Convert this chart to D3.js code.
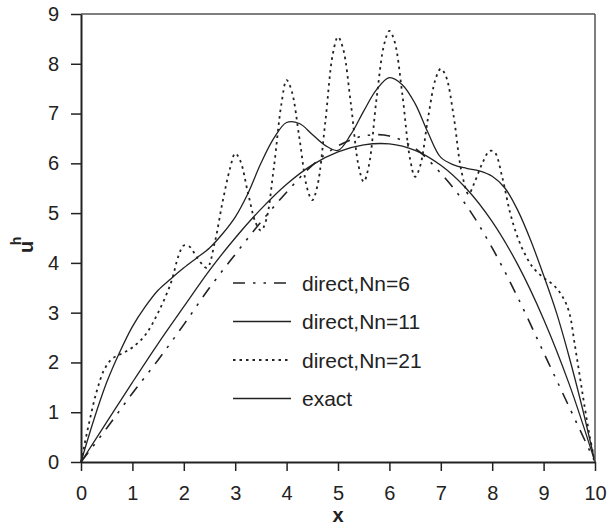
<!DOCTYPE html>
<html>
<head>
<meta charset="utf-8">
<script src="https://cdn.jsdelivr.net/npm/d3@7"></script>
<style>
body { margin: 0; background: #fff; }
</style>
</head>
<body>
<svg id="chart" width="607" height="530"></svg>
<script>
// x grid for exact and Nn=6 curves
const xHalf = [0,0.5,1,1.5,2,2.5,3,3.5,4,4.5,5,5.5,6,6.5,7,7.5,8,8.5,9,9.5,10];
const exactU = [0,0.8,1.6,2.38,3.12,3.85,4.5,5.08,5.58,5.97,6.23,6.37,6.39,6.26,5.96,5.49,4.83,3.96,2.87,1.56,0];
const nn6U = [0,0.68,1.38,2.05,2.76,3.5,4.17,4.82,5.42,5.96,6.35,6.55,6.55,6.3,5.8,5.15,4.3,3.3,2.2,1.1,0];

// x grid for Nn=11
const xQuarter = [0,0.25,0.5,0.75,1,1.25,1.5,1.75,2,2.25,2.5,2.75,3,3.25,3.5,3.75,4,4.25,4.5,4.75,5,
    5.25,5.5,5.75,6,6.25,6.5,6.75,7,7.25,7.5,7.75,8,8.25,8.5,8.75,9,9.25,9.5,9.75,10];
const nn11U = [0,0.85,1.6,2.2,2.72,3.12,3.45,3.68,3.9,4.1,4.3,4.58,4.92,5.4,6.0,6.5,6.82,6.8,6.58,6.36,6.26,
    6.58,7.05,7.48,7.72,7.58,7.2,6.62,6.12,5.97,5.9,5.85,5.74,5.5,5.05,4.45,3.75,3.0,2.1,1.1,0];

// Nn=21 (oscillating)
const xNn21 = [0,0.15,0.3,0.45,0.6,0.8,1.0,1.25,1.5,1.75,1.9,2.0,2.12,2.25,2.45,2.6,2.75,2.9,3.0,3.1,3.25,3.4,3.5,
    3.6,3.75,3.9,4.0,4.1,4.25,4.4,4.5,4.6,4.75,4.9,5.0,5.1,5.25,5.4,5.5,5.6,5.75,5.9,6.0,6.1,6.25,6.4,6.5,
    6.6,6.75,6.9,7.0,7.1,7.25,7.4,7.54,7.65,7.8,7.95,8.05,8.2,8.35,8.5,8.65,8.8,9.0,9.2,9.38,9.5,9.6,9.7,9.8,9.9,10];
const nn21U = [0,0.75,1.4,1.85,2.07,2.18,2.3,2.55,3.0,3.6,4.15,4.35,4.32,4.12,3.9,4.4,5.2,5.9,6.2,6.05,5.4,4.8,4.65,
    4.85,5.9,7.2,7.67,7.45,6.5,5.5,5.26,5.55,6.8,8.2,8.54,8.3,7.2,5.95,5.63,5.95,7.3,8.4,8.66,8.45,7.4,6.1,5.73,
    5.95,6.9,7.7,7.9,7.75,6.95,5.85,5.38,5.6,5.98,6.25,6.22,5.7,5.0,4.5,4.15,3.9,3.7,3.55,3.3,3.0,2.4,1.75,1.1,0.5,0];

const xTicks = [0,1,2,3,4,5,6,7,8,9,10];
const yTicks = [0,1,2,3,4,5,6,7,8,9];
const legendNames = ["direct,Nn=6", "direct,Nn=11", "direct,Nn=21", "exact"];

const font = "'Liberation Sans', Arial, sans-serif";
const ink = "#222";

let svg = d3.select("#chart");

let x = d3.scaleLinear().domain([0, 10]).range([81, 595]);
let y = d3.scaleLinear().domain([0, 9]).range([462, 14]);

// series
let series = [
    {name: legendNames[0], xs: xHalf, ys: nn6U, dash: "12,8,2.5,8,2.5,8", w: 1.6},
    {name: legendNames[1], xs: xQuarter, ys: nn11U, dash: null, w: 1.3},
    {name: legendNames[2], xs: xNn21, ys: nn21U, dash: "2.5,4", w: 1.8},
    {name: legendNames[3], xs: xHalf, ys: exactU, dash: null, w: 1.3}
];

let line = d3.line()
    .x(d => x(d[0]))
    .y(d => y(d[1]))
    .curve(d3.curveCatmullRom.alpha(0.5));

series.forEach(s => {
    svg.append("path")
        .datum(s.xs.map((v, i) => [v, s.ys[i]]))
        .attr("fill", "none")
        .attr("stroke", ink)
        .attr("stroke-width", s.w)
        .attr("stroke-dasharray", s.dash)
        .attr("d", line);
});

// frame top and right
svg.append("line")
    .attr("x1", x(0)).attr("x2", x(10)).attr("y1", y(9)).attr("y2", y(9))
    .attr("stroke", "#555").attr("stroke-width", 1.5);
svg.append("line")
    .attr("x1", x(10)).attr("x2", x(10)).attr("y1", y(9)).attr("y2", y(0))
    .attr("stroke", "#555").attr("stroke-width", 1.5);

// x axis
let gx = svg.append("g")
    .attr("transform", "translate(0," + y(0) + ")")
    .call(d3.axisBottom(x).tickValues(xTicks).tickSize(9).tickSizeOuter(0).tickPadding(15).tickFormat(d3.format("d")));

// y axis
let gy = svg.append("g")
    .attr("transform", "translate(" + x(0) + ",0)")
    .call(d3.axisLeft(y).tickValues(yTicks).tickSize(10).tickSizeOuter(0).tickPadding(12).tickFormat(d3.format("d")));

[gx, gy].forEach(g => {
    g.select(".domain").attr("stroke", ink).attr("stroke-width", 2);
    g.selectAll(".tick line").attr("stroke", ink).attr("stroke-width", 1.5);
    g.selectAll(".tick text")
        .attr("fill", ink)
        .style("font-family", font)
        .style("font-size", "20px");
});

// axis labels
svg.append("text")
    .attr("x", 338).attr("y", 522)
    .attr("text-anchor", "middle")
    .style("font-family", font).style("font-size", "20px").style("font-weight", "bold")
    .attr("fill", ink)
    .text("x");

svg.append("text")
    .attr("transform", "translate(33,247) rotate(-90)")
    .attr("text-anchor", "middle")
    .style("font-family", font).style("font-size", "20px").style("font-weight", "bold")
    .attr("fill", ink)
    .text("u");
svg.append("text")
    .attr("transform", "translate(21,241) rotate(-90)")
    .attr("text-anchor", "middle")
    .style("font-family", font).style("font-size", "14px").style("font-weight", "bold")
    .attr("fill", ink)
    .text("h");

// legend
let legend = svg.append("g");
series.forEach((s, i) => {
    let ly = 283 + i * 38.5;
    legend.append("line")
        .attr("x1", 233).attr("x2", 291).attr("y1", ly).attr("y2", ly)
        .attr("stroke", ink).attr("stroke-width", s.w)
        .attr("stroke-dasharray", s.dash);
    legend.append("text")
        .attr("x", 302).attr("y", ly).attr("dy", "0.36em")
        .style("font-family", font).style("font-size", "21px")
        .attr("fill", ink)
        .text(s.name);
});
</script>
</body>
</html>
